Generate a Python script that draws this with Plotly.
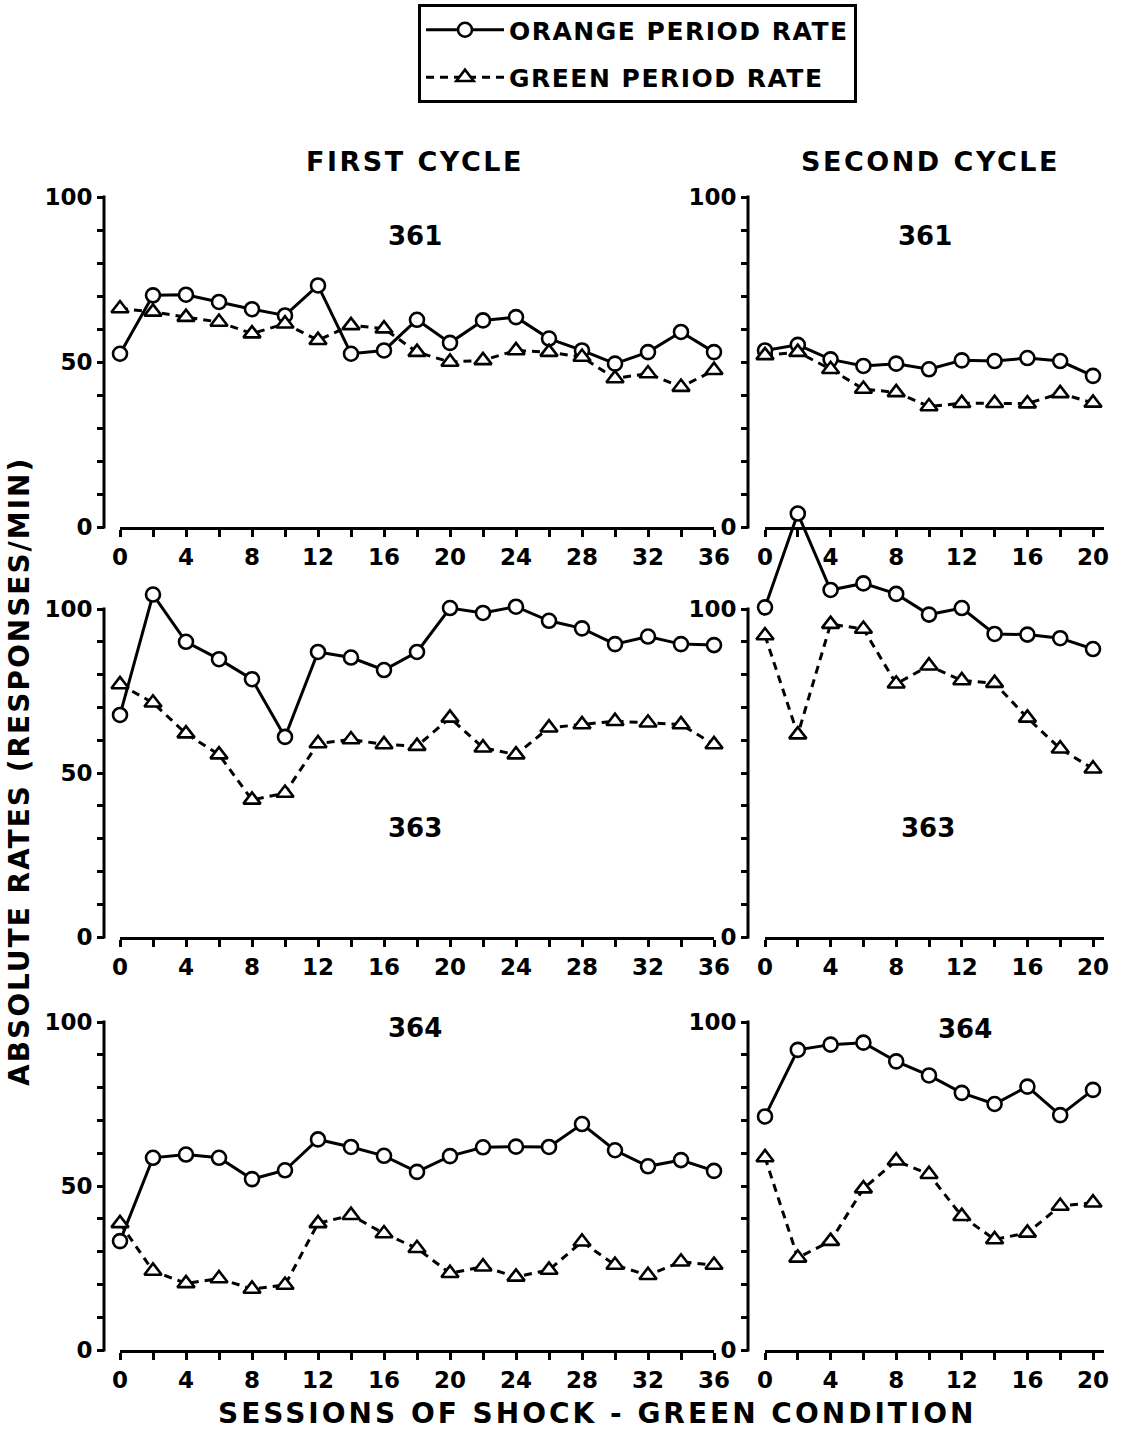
import plotly.graph_objects as go

W, H = 1127, 1432

# ---------------- data ----------------
sessions_first = [0, 2, 4, 6, 8, 10, 12, 14, 16, 18, 20, 22, 24, 26, 28, 30, 32, 34, 36]
sessions_second = [0, 2, 4, 6, 8, 10, 12, 14, 16, 18, 20]

orange_361_first = [52.5, 70.2, 70.4, 68.2, 66.0, 64.1, 73.2, 52.5, 53.5, 62.8, 55.8, 62.6, 63.6, 57.1, 53.5, 49.5, 53.0, 59.1, 53.0]
green_361_first = [66.2, 65.2, 63.6, 62.1, 58.6, 61.6, 56.6, 61.1, 60.1, 53.0, 50.0, 50.5, 53.5, 53.0, 51.5, 45.0, 46.5, 42.4, 47.5]
orange_361_second = [53.5, 55.2, 50.8, 48.8, 49.5, 47.8, 50.5, 50.3, 51.2, 50.3, 45.8]
green_361_second = [52.0, 53.0, 47.8, 41.8, 40.8, 36.5, 37.5, 37.5, 37.4, 40.5, 37.6]

orange_363_first = [67.7, 104.4, 90.0, 84.7, 78.6, 61.0, 86.9, 85.2, 81.4, 86.9, 100.3, 98.8, 100.7, 96.4, 94.1, 89.3, 91.6, 89.3, 89.0]
green_363_first = [77.0, 71.4, 62.0, 55.6, 41.8, 43.9, 59.0, 60.2, 58.7, 58.2, 66.8, 57.7, 55.6, 63.8, 64.8, 65.8, 65.3, 64.8, 58.7]
orange_363_second = [100.5, 129.1, 105.8, 107.8, 104.6, 98.3, 100.3, 92.4, 92.2, 91.1, 87.8]
green_363_second = [91.9, 61.7, 95.4, 93.9, 77.2, 82.7, 78.2, 77.4, 66.8, 57.4, 51.3]

orange_364_first = [33.2, 58.6, 59.6, 58.6, 52.1, 54.8, 64.2, 61.9, 59.2, 54.3, 59.1, 61.8, 62.0, 61.9, 68.9, 60.9, 56.0, 57.9, 54.6]
green_364_first = [38.6, 24.1, 20.3, 21.8, 18.6, 19.8, 38.6, 41.1, 35.5, 31.0, 23.4, 25.4, 22.3, 24.4, 33.0, 25.9, 22.8, 26.9, 25.9]
orange_364_second = [71.2, 91.5, 93.1, 93.7, 88.0, 83.7, 78.4, 75.0, 80.3, 71.6, 79.3]
green_364_second = [58.7, 28.1, 33.2, 49.2, 57.7, 53.6, 40.8, 33.7, 35.7, 43.9, 44.9]

subjects = ["361", "363", "364"]
cycle_titles = ["FIRST CYCLE", "SECOND CYCLE"]
series_names = ["ORANGE PERIOD RATE", "GREEN PERIOD RATE"]
x_title = "SESSIONS OF SHOCK - GREEN CONDITION"
y_title = "ABSOLUTE RATES (RESPONSES/MIN)"
y_tick_values = [0, 10, 20, 30, 40, 50, 60, 70, 80, 90, 100]
y_tick_labels_left = ["0", "", "", "", "", "50", "", "", "", "", "100"]
y_tick_labels_right = ["0", "", "", "", "", "", "", "", "", "", "100"]
x_first_ticks = sessions_first
x_second_ticks = sessions_second

panels = [
    (sessions_first, orange_361_first, green_361_first),
    (sessions_second, orange_361_second, green_361_second),
    (sessions_first, orange_363_first, green_363_first),
    (sessions_second, orange_363_second, green_363_second),
    (sessions_first, orange_364_first, green_364_first),
    (sessions_second, orange_364_second, green_364_second),
]

# ---------------- layout geometry (pixels) ----------------
FONT = "DejaVu Sans"
rows = [  # (pixel of value 0, pixel of value 100, top value of data range)
    (527, 197, 110),
    (937, 609, 136),
    (1350, 1022, 110),
]
cols = [  # (x-axis 0 px, px per unit, range max, y-axis line px, y tick labels)
    (120, 16.5, 36, 104, y_tick_labels_left),
    (765, 16.4, 20.67, 748, y_tick_labels_right),
]


def fx(p):
    return p / W


def fy(p):
    return 1 - p / H


def spaced(txt, px):
    return f'<span style="letter-spacing:{px}px">{txt}</span>'


tick_font = dict(family=FONT, size=23, color="black", weight="bold")

fig = go.Figure()
layout = dict(
    width=W, height=H, margin=dict(l=0, r=0, t=0, b=0),
    paper_bgcolor="white", plot_bgcolor="rgba(0,0,0,0)",
    font=dict(family=FONT, color="black"),
    showlegend=True,
    legend=dict(x=fx(418), y=fy(4), xanchor="left", yanchor="top",
                bordercolor="black", borderwidth=3, bgcolor="white",
                font=dict(family=FONT, size=25, color="black", weight="bold"),
                itemwidth=78, tracegroupgap=12, traceorder="grouped"),
)
shapes = []
annotations = []

for i, (xs, orng, grn) in enumerate(panels):
    r, c = divmod(i, 2)
    y0p, y100p, ytop = rows[r]
    x0p, ppu_x, xmax, ylinep, ylabels = cols[c]
    ppu_y = (y0p - y100p) / 100.0
    n = i + 1
    xa = "x" if n == 1 else f"x{n}"
    ya = "y" if n == 1 else f"y{n}"
    xkey = "xaxis" if n == 1 else f"xaxis{n}"
    ykey = "yaxis" if n == 1 else f"yaxis{n}"

    xticks = x_first_ticks if c == 0 else x_second_ticks
    layout[xkey] = dict(
        domain=[fx(x0p), fx(x0p + xmax * ppu_x)], range=[0, xmax], anchor=ya,
        showline=True, linecolor="black", linewidth=3,
        ticks="outside", ticklen=7, tickwidth=3, tickcolor="black",
        tickmode="array", tickvals=xticks,
        ticktext=[str(v) if v % 4 == 0 else "" for v in xticks],
        tickfont=tick_font,
        showgrid=False, zeroline=False, fixedrange=True, automargin=False,
    )
    layout[ykey] = dict(
        domain=[fy(y0p), fy(y0p - ytop * ppu_y)], range=[0, ytop],
        anchor="free", position=fx(ylinep),
        showline=False, ticks="outside", ticklen=7, tickwidth=3, tickcolor="black",
        tickmode="array", tickvals=y_tick_values, ticktext=ylabels,
        tickfont=tick_font,
        showgrid=False, zeroline=False, fixedrange=True, automargin=False,
    )
    # vertical axis line (0..100 only)
    shapes.append(dict(type="line", xref="paper", yref="paper",
                       x0=fx(ylinep), x1=fx(ylinep), y0=fy(y0p + 1.5), y1=fy(y100p - 1.5),
                       line=dict(color="black", width=3)))

    fig.add_trace(go.Scatter(
        x=xs, y=orng, xaxis=xa, yaxis=ya, mode="lines+markers",
        name=spaced(series_names[0], 1.5), legendgroup="orange", showlegend=(n == 1),
        line=dict(color="black", width=3),
        marker=dict(symbol="circle", size=14, color="white",
                    line=dict(color="black", width=2.6)),
        cliponaxis=False,
    ))
    fig.add_trace(go.Scatter(
        x=xs, y=grn, xaxis=xa, yaxis=ya, mode="lines+markers",
        name=spaced(series_names[1], 1.5), legendgroup="green", showlegend=(n == 1),
        line=dict(color="black", width=3, dash="8px,6px"),
        marker=dict(symbol="triangle-up", size=15, color="white",
                    line=dict(color="black", width=2.6)),
        cliponaxis=False,
    ))

# subject numbers
label_pos = [(415, 236), (925, 236), (415, 828), (928, 828), (415, 1028), (965, 1029)]
for i, (px, py) in enumerate(label_pos):
    annotations.append(dict(text=subjects[i // 2], x=fx(px), y=fy(py), xref="paper", yref="paper",
                            showarrow=False, xanchor="center", yanchor="middle",
                            font=dict(family=FONT, size=26, color="black", weight="bold")))

# cycle titles
for txt, px in zip(cycle_titles, [415, 930]):
    annotations.append(dict(text=spaced(txt, 2.5), x=fx(px), y=fy(161), xref="paper", yref="paper",
                            showarrow=False, xanchor="center", yanchor="middle",
                            font=dict(family=FONT, size=27, color="black", weight="bold")))

# axis titles
annotations.append(dict(text=spaced(x_title, 3), x=fx(597), y=fy(1432),
                        xref="paper", yref="paper", showarrow=False,
                        xanchor="center", yanchor="bottom",
                        font=dict(family=FONT, size=28, color="black", weight="bold")))
annotations.append(dict(text=spaced(y_title, 2), x=fx(19), y=fy(772),
                        xref="paper", yref="paper", showarrow=False, textangle=-90,
                        xanchor="center", yanchor="middle",
                        font=dict(family=FONT, size=28, color="black", weight="bold")))

layout["shapes"] = shapes
layout["annotations"] = annotations
fig.update_layout(template="none", **layout)
fig.write_html("out.html")
